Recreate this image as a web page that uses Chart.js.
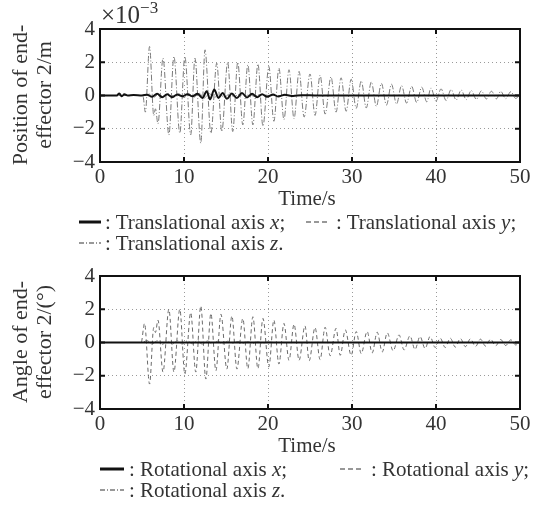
<!DOCTYPE html>
<html>
<head>
<meta charset="utf-8">
<script src="https://cdn.jsdelivr.net/npm/chart.js@4/dist/chart.umd.min.js"></script>
<style>
  body { margin: 0; background: #fff; width: 556px; height: 509px; position: relative; overflow: hidden;
         font-family: "Liberation Serif", "Times New Roman", serif; color: #333; }
  canvas { position: absolute; left: 0; }
  .txt { position: absolute; white-space: nowrap; font-size: 21px; line-height: 22px; }
  .ytitle { position: absolute; width: 180px; height: 48px; line-height: 24px; font-size: 22px;
            text-align: center; transform: rotate(-90deg); white-space: nowrap; }
  .row { position: absolute; white-space: nowrap; font-size: 21px; line-height: 22px; height: 22px; }
  .row svg { position: absolute; top: 6px; }
  .row span { position: absolute; top: 0; }
  i { font-style: italic; }
</style>
</head>
<body>
<canvas id="posChart" width="556" height="200" style="top:0"></canvas>
<canvas id="angChart" width="556" height="200" style="top:247px"></canvas>

<div class="txt" style="left:101px; top:4px; font-size:25px;">×10<span style="font-size:17px; position:relative; top:-10px;">−3</span></div>
<div class="ytitle" style="left:-58px; top:71px;">Position of end-<br>effector 2/m</div>
<div class="txt" style="left:257px; width:100px; text-align:center; top:187px;">Time/s</div>
<div class="row" style="left:0; top:211px;">
  <svg style="left:79px" width="22" height="10"><line x1="0" y1="5" x2="22" y2="5" stroke="#111" stroke-width="3"/></svg>
  <span style="left:105px">: Translational axis <i>x</i>;</span>
  <svg style="left:306px" width="24" height="10"><line x1="0" y1="5" x2="24" y2="5" stroke="#333" stroke-width="1.2" stroke-dasharray="5,3"/></svg>
  <span style="left:336px">: Translational axis <i>y</i>;</span>
</div>
<div class="row" style="left:0; top:232px;">
  <svg style="left:79px" width="22" height="10"><line x1="0" y1="5" x2="22" y2="5" stroke="#333" stroke-width="1.2" stroke-dasharray="5,2,1,2"/></svg>
  <span style="left:105px">: Translational axis <i>z</i>.</span>
</div>

<div class="ytitle" style="left:-58px; top:318px;">Angle of end-<br>effector 2/(°)</div>
<div class="txt" style="left:257px; width:100px; text-align:center; top:434px;">Time/s</div>
<div class="row" style="left:0; top:458px;">
  <svg style="left:100px" width="24" height="10"><line x1="0" y1="5" x2="24" y2="5" stroke="#111" stroke-width="3"/></svg>
  <span style="left:129px">: Rotational axis <i>x</i>;</span>
  <svg style="left:340px" width="24" height="10"><line x1="0" y1="5" x2="24" y2="5" stroke="#333" stroke-width="1.2" stroke-dasharray="5,3"/></svg>
  <span style="left:371px">: Rotational axis <i>y</i>;</span>
</div>
<div class="row" style="left:0; top:479px;">
  <svg style="left:100px" width="24" height="10"><line x1="0" y1="5" x2="24" y2="5" stroke="#333" stroke-width="1.2" stroke-dasharray="5,2,1,2"/></svg>
  <span style="left:129px">: Rotational axis <i>z</i>.</span>
</div>

<script>
// axis ticks
const timeTicks = [0, 10, 20, 30, 40, 50];
const valueTicks = [-4, -2, 0, 2, 4];

// end-effector position (x1e-3 m), sampled at the turning points of each curve
const posTimeX = [0, 2.0, 2.3, 2.6, 2.9, 3.3, 4.0, 5.0, 5.6, 6.2, 6.8, 7.4, 8.0, 8.6, 9.2, 9.8, 10.4, 11.0, 11.6, 12.2,
  12.7, 13.1, 13.6, 14.1, 14.6, 15.1, 15.7, 16.3, 16.9, 17.5, 18.1, 18.7, 19.3, 19.9, 20.6, 21.2, 22.0, 23.0, 24.0, 26.0, 50];
const posX = [0, 0, 0.12, -0.05, 0.08, 0, 0.03, 0, 0.05, -0.08, 0.1, -0.1, 0.08, -0.1, 0.06, -0.05, 0.08, -0.05, 0.1, -0.15,
  0.26, -0.24, 0.36, -0.15, 0.15, -0.2, 0.12, -0.15, 0.15, -0.12, 0.1, -0.1, 0.08, -0.08, 0.06, -0.06, 0.04, -0.03, 0.02, 0, 0];

const posTimeY = [0, 5.2, 5.8, 6.4, 7.0, 7.6, 8.2, 8.8, 9.4, 10.0, 10.6, 11.2, 11.8, 12.4, 13.0, 13.6, 14.2, 14.8, 15.4,
  16.0, 16.6, 17.2, 17.8, 18.4, 19.0, 19.6, 20.2, 21.0, 22.0, 50];
const posY = [0, 0, 0.1, -0.12, 0.1, -0.1, 0.12, -0.1, 0.1, -0.12, 0.1, -0.1, 0.14, -0.16, 0.12, -0.12, 0.1, -0.1, 0.08,
  -0.08, 0.08, -0.06, 0.06, -0.06, 0.05, -0.04, 0.04, 0, 0, 0];

const posTimeZ = [0, 5.1, 5.4, 5.9, 6.4, 6.6, 6.9, 7.5, 8.2, 8.8, 9.5, 10.1, 10.8, 11.3, 12.0, 12.5, 13.2, 13.9, 14.5,
  15.2, 15.8, 16.4, 17.0, 17.6, 18.2, 18.8, 19.4, 20.1, 20.7, 21.3, 21.9, 22.5, 23.1, 23.7, 24.3, 25.0, 25.6, 26.2,
  26.8, 27.5, 28.1, 28.7, 29.3, 29.9, 30.5, 31.1, 31.7, 32.3, 32.9, 33.5, 34.1, 34.7, 35.3, 35.9, 36.5, 37.1, 37.7,
  38.3, 38.9, 39.4, 40.0, 40.6, 41.2, 41.8, 42.4, 43.0, 43.6, 44.2, 44.8, 45.4, 46.0, 46.6, 47.2, 47.7, 48.3, 48.9,
  49.5, 50];
const posZ = [0, 0, -1.0, 2.95, -1.2, -0.8, -1.7, 2.25, -2.37, 2.35, -2.27, 2.35, -2.37, 2.25, -2.87, 2.75, -2.27, 1.95, -2.17,
  2.0, -2.17, 2.0, -1.77, 1.85, -1.77, 1.9, -1.85, 1.75, -1.55, 1.65, -1.45, 1.55, -1.4, 1.45, -1.3, 1.3, -1.2, 1.22,
  -1.12, 1.12, -1.0, 1.07, -0.95, 0.98, -0.78, 0.88, -0.75, 0.82, -0.65, 0.73, -0.58, 0.68, -0.52, 0.6, -0.46, 0.55, -0.42,
  0.5, -0.38, 0.45, -0.34, 0.4, -0.3, 0.36, -0.27, 0.33, -0.25, 0.3, -0.23, 0.28, -0.21, 0.26, -0.2, 0.25, -0.19, 0.23,
  -0.18, 0.1];

// end-effector angle (deg)
const angTimeX = [0, 50];
const angX = [0, 0];

const angTimeY = [0, 4.9, 5.3, 5.9, 6.4, 6.6, 6.9, 7.5, 8.2, 8.8, 9.5, 10.1, 10.8, 11.4, 12.0, 12.6, 13.2, 13.8, 14.4,
  15.1, 15.7, 16.3, 17.0, 17.6, 18.2, 18.8, 19.4, 20.1, 20.7, 21.3, 21.9, 22.5, 23.1, 23.7, 24.4, 24.9, 25.6, 26.2,
  26.8, 27.4, 28.1, 28.6, 29.2, 29.9, 30.5, 31.1, 31.8, 32.4, 33.0, 33.6, 34.2, 34.9, 35.6, 36.2, 36.9, 37.5, 38.1,
  38.7, 39.3, 39.9, 40.5, 41.1, 41.7, 42.3, 42.9, 43.5, 44.1, 44.7, 45.3, 45.9, 46.5, 47.1, 47.7, 48.3, 48.9, 49.5, 50];
const angY = [0, 0, 1.15, -2.5, 0.9, 0.6, 1.35, -1.78, 2.0, -1.78, 2.0, -1.9, 1.8, -1.78, 2.2, -2.2, 1.75, -1.7, 1.7,
  -1.6, 1.6, -1.6, 1.45, -1.58, 1.55, -1.58, 1.45, -1.47, 1.35, -1.3, 1.15, -1.07, 1.1, -1.07, 1.0, -1.1, 0.9, -1.03,
  0.92, -0.8, 0.85, -0.77, 0.76, -0.77, 0.66, -0.67, 0.66, -0.63, 0.62, -0.57, 0.58, -0.5, 0.46, -0.45, 0.4, -0.42, 0.36,
  -0.36, 0.36, -0.3, 0.26, -0.3, 0.26, -0.28, 0.24, -0.25, 0.22, -0.24, 0.2, -0.22, 0.2, -0.2, 0.18, -0.18, 0.16, -0.15, 0.05];

const angTimeZ = [0, 5.0, 5.6, 6.2, 6.8, 7.4, 8.0, 8.6, 9.2, 9.8, 10.4, 11.0, 11.6, 12.2, 12.8, 13.4, 14.0, 14.6, 15.2,
  15.8, 16.4, 17.0, 17.6, 18.2, 18.8, 19.4, 20.0, 21.0, 50];
const angZ = [0, 0, 0.12, -0.1, 0.1, -0.12, 0.1, -0.1, 0.12, -0.1, 0.1, -0.08, 0.12, -0.12, 0.1, -0.1, 0.08, -0.08, 0.08,
  -0.06, 0.06, -0.06, 0.05, -0.05, 0.04, -0.04, 0.03, 0, 0];

const toPoints = (ts, vs) => ts.map((t, i) => ({ x: t, y: vs[i] }));
const serif = '"Liberation Serif", "Times New Roman", serif';

// closed box around the plot area with inward tick marks on all four sides
const framePlugin = {
  id: 'frame',
  afterDatasetsDraw(chart) {
    const { ctx, chartArea: a, scales: { x, y } } = chart;
    ctx.save();
    ctx.strokeStyle = '#111';
    ctx.lineWidth = 2;
    ctx.strokeRect(a.left, a.top, a.right - a.left, a.bottom - a.top);
    ctx.beginPath();
    x.ticks.forEach(t => {
      const px = x.getPixelForValue(t.value);
      ctx.moveTo(px, a.bottom); ctx.lineTo(px, a.bottom - 5);
      ctx.moveTo(px, a.top); ctx.lineTo(px, a.top + 5);
    });
    y.ticks.forEach(t => {
      const py = y.getPixelForValue(t.value);
      ctx.moveTo(a.left, py); ctx.lineTo(a.left + 5, py);
      ctx.moveTo(a.right, py); ctx.lineTo(a.right - 5, py);
    });
    ctx.stroke();
    ctx.restore();
  }
};

function makeChart(id, series) {
  const ctx = document.getElementById(id).getContext('2d');
  return new Chart(ctx, {
    type: 'line',
    data: {
      datasets: series.map(s => ({
        data: toPoints(s.t, s.v),
        borderColor: s.color,
        borderWidth: s.width,
        borderDash: s.dash,
        pointRadius: 0,
        cubicInterpolationMode: 'monotone',
        fill: false
      }))
    },
    options: {
      responsive: false,
      animation: false,
      events: [],
      layout: { padding: { top: 29, right: 36, bottom: 0, left: 0 } },
      plugins: { legend: { display: false }, tooltip: { enabled: false } },
      scales: {
        x: {
          type: 'linear', min: 0, max: 50,
          afterBuildTicks: scale => { scale.ticks = timeTicks.map(v => ({ value: v })); },
          afterFit: scale => { scale.height = 38; },
          grid: { color: '#9a9a9a', lineWidth: 1, drawTicks: false },
          border: { display: false, dash: [1, 3] },
          ticks: { padding: 3, color: '#333', font: { family: serif, size: 21 }, maxRotation: 0 }
        },
        y: {
          min: -4, max: 4,
          afterBuildTicks: scale => { scale.ticks = valueTicks.map(v => ({ value: v })); },
          afterFit: scale => { scale.width = 100; },
          grid: { color: '#9a9a9a', lineWidth: 1, drawTicks: false },
          border: { display: false, dash: [1, 3] },
          ticks: { padding: 5, color: '#333', font: { family: serif, size: 21 },
                   callback: v => String(v).replace('-', '\u2212') }
        }
      }
    },
    plugins: [framePlugin]
  });
}

// x on top, then y, then z underneath
makeChart('posChart', [
  { t: posTimeX, v: posX, color: '#111', width: 2, dash: [] },
  { t: posTimeY, v: posY, color: '#8a8a8a', width: 1, dash: [4, 3] },
  { t: posTimeZ, v: posZ, color: '#7a7a7a', width: 1, dash: [6, 2, 1, 2] }
]);

makeChart('angChart', [
  { t: angTimeX, v: angX, color: '#111', width: 2, dash: [] },
  { t: angTimeY, v: angY, color: '#6a6a6a', width: 1, dash: [4, 3] },
  { t: angTimeZ, v: angZ, color: '#8a8a8a', width: 1, dash: [6, 2, 1, 2] }
]);
</script>
</body>
</html>
